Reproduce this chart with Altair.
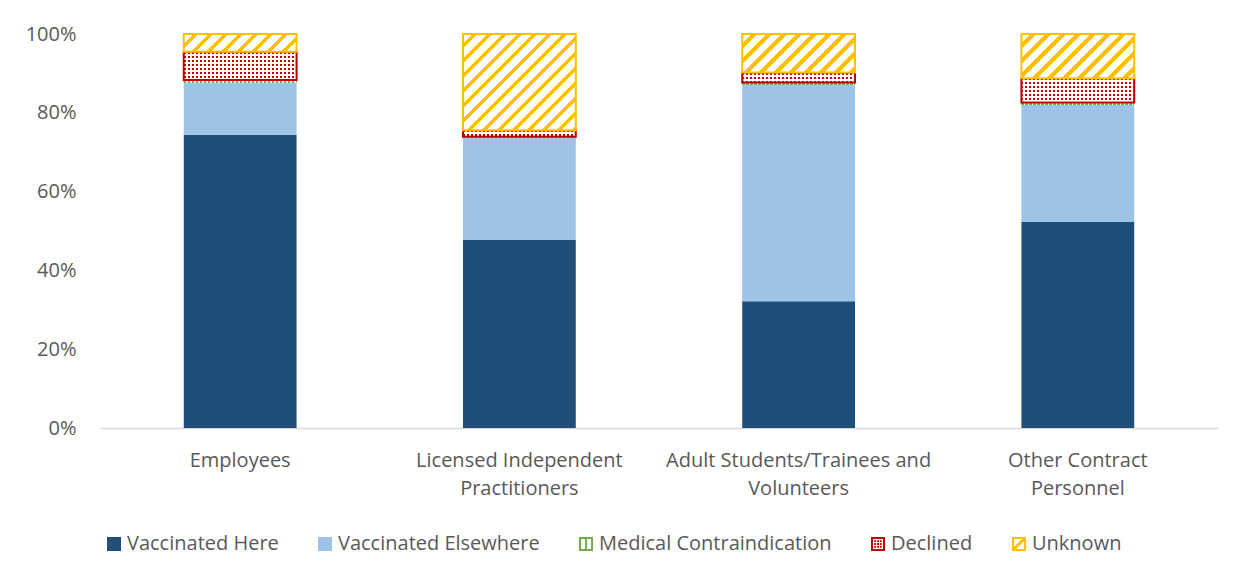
import math
import altair as alt
import pandas as pd

# ---------------- data ----------------
categories = [
    "Employees",
    "Licensed Independent Practitioners",
    "Adult Students/Trainees and Volunteers",
    "Other Contract Personnel",
]
label_lines = [
    ["Employees"],
    ["Licensed Independent", "Practitioners"],
    ["Adult Students/Trainees and", "Volunteers"],
    ["Other Contract", "Personnel"],
]
series = ["Vaccinated Here", "Vaccinated Elsewhere", "Medical Contraindication", "Declined", "Unknown"]
vaccinated_here = [74.4, 47.7, 32.2, 52.3]
vaccinated_elsewhere = [13.2, 25.9, 54.9, 29.7]
medical_contraindication = [0.7, 0.3, 0.6, 0.6]
declined = [7.2, 1.7, 2.5, 6.2]
unknown = [4.5, 24.4, 9.8, 11.2]
y_ticks = [0, 20, 40, 60, 80, 100]

colors = ["#1F4E79", "#9DC3E6", "#70AD47", "#C00000", "#FFC000"]

values_by_series = [vaccinated_here, vaccinated_elsewhere, medical_contraindication, declined, unknown]
rows = []
for ci, cat in enumerate(categories):
    base = 0.0
    for si, s in enumerate(series):
        v = values_by_series[si][ci]
        rows.append({"category": cat, "series": s, "value": v, "y0": base, "y1": base + v})
        base += v
df = pd.DataFrame(rows)

# ---------------- layout ----------------
W_PLOT, H_PLOT = 1118, 394
P_INNER, P_OUTER = 0.596, 0.3
STEP = W_PLOT / (len(categories) - P_INNER + 2 * P_OUTER)
BAR_W = STEP * (1 - P_INNER)
FONT = "Open Sans"
FS = 20
TXT = "#595959"
TRANSP = "rgba(255,255,255,0)"


def stripes(length, period, frac, c_on, c_off, horizontal=True):
    stops = []
    n = int(math.ceil(length / period)) + 1
    for i in range(n):
        a = min(1.0, i * period / length)
        b = min(1.0, (i + frac) * period / length)
        c = min(1.0, (i + 1) * period / length)
        stops += [
            {"offset": a, "color": c_on},
            {"offset": b, "color": c_on},
            {"offset": b, "color": c_off},
            {"offset": c, "color": c_off},
        ]
        if c >= 1.0:
            break
    if horizontal:
        return alt.LinearGradient(gradient="linear", stops=stops, x1=0, y1=0, x2=1, y2=0)
    return alt.LinearGradient(gradient="linear", stops=stops, x1=0, y1=0, x2=0, y2=1)


def diag(w, h, period, frac, c_on, c_off):
    c = (w + h) / (w * w + h * h)
    L = (w + h) / math.sqrt(2)
    stops = []
    n = int(math.ceil(L / period)) + 1
    for i in range(n):
        a = min(1.0, i * period / L)
        b = min(1.0, (i + 1 - frac) * period / L)
        e = min(1.0, (i + 1) * period / L)
        stops += [
            {"offset": a, "color": c_off},
            {"offset": b, "color": c_off},
            {"offset": b, "color": c_on},
            {"offset": e, "color": c_on},
        ]
        if e >= 1.0:
            break
    return alt.LinearGradient(gradient="linear", stops=stops, x1=0, y1=0, x2=c * w, y2=c * h)


def sq(x0, y0, x1, y1, ccw=False):
    if ccw:
        return f"M{x0},{y0}V{y1}H{x1}V{y0}Z"
    return f"M{x0},{y0}H{x1}V{y1}H{x0}Z"


ring = sq(-1, -1, 1, 1) + sq(-0.72, -0.72, 0.72, 0.72, ccw=True)
shape_solid = sq(-1, -1, 1, 1)
shape_med = ring + sq(-0.14, -1, 0.14, 1)
dots = "".join(
    sq(cx - 0.13, cy - 0.13, cx + 0.13, cy + 0.13)
    for cx in (-0.4, 0.0, 0.4)
    for cy in (-0.4, 0.0, 0.4)
)
shape_dec = ring + dots
shape_unk = ring + "M-0.72,0.42L0.42,-0.72L0.72,-0.72L0.72,-0.42L-0.42,0.72L-0.72,0.72Z"
shapes = [shape_solid, shape_solid, shape_med, shape_dec, shape_unk]

x_enc = alt.X(
    "category:N",
    sort=categories,
    scale=alt.Scale(paddingInner=P_INNER, paddingOuter=P_OUTER),
    axis=alt.Axis(
        title=None,
        labelAngle=0,
        ticks=False,
        domainColor="#D9D9D9",
        domainWidth=1.5,
        labelFont=FONT,
        labelFontSize=FS,
        labelColor=TXT,
        labelPadding=22,
        labelBaseline="top",
        labelLineHeight=28,
        labelLimit=0,
        labelExpr=" : ".join(
            [f"datum.label == '{c}' ? {l}" for c, l in zip(categories, label_lines)]
        ) + " : datum.label",
    ),
)
y_enc = alt.Y(
    "y0:Q",
    scale=alt.Scale(domain=[0, 100], nice=False),
    axis=alt.Axis(
        title=None,
        values=y_ticks,
        labelExpr="datum.value + '%'",
        grid=False,
        domain=False,
        ticks=False,
        labelFont=FONT,
        labelFontSize=FS,
        labelColor=TXT,
        labelPadding=24,
    ),
)
y2_enc = alt.Y2("y1:Q")

legend = alt.Legend(
    title=None,
    orient="none",
    direction="horizontal",
    legendX=4,
    legendY=500,
    symbolSize=196,
    symbolStrokeWidth=0,
    symbolOpacity=1,
    labelFont=FONT,
    labelFontSize=FS,
    labelColor=TXT,
    labelOffset=3,
    labelLimit=0,
    columnPadding=36,
    padding=0,
)
color_enc = alt.Color(
    "series:N", scale=alt.Scale(domain=series, range=colors), sort=series, legend=legend
)
shape_enc = alt.Shape(
    "series:N", scale=alt.Scale(domain=series, range=shapes), sort=series, legend=legend
)

base = alt.Chart(df).mark_bar().encode(x=x_enc, y=y_enc, y2=y2_enc, color=color_enc)
legend_pts = (
    alt.Chart(df)
    .mark_point(filled=True, opacity=0)
    .encode(x=x_enc, y=y_enc, color=color_enc, shape=shape_enc)
)

layers = [base]
for ci, cat in enumerate(categories):
    for s in ["Medical Contraindication", "Declined", "Unknown"]:
        v = values_by_series[series.index(s)][ci]
        h = v / 100.0 * H_PLOT
        sel = alt.Chart(df).transform_filter(
            (alt.datum.category == cat) & (alt.datum.series == s)
        )
        if s == "Medical Contraindication":
            g = stripes(BAR_W, 4, 0.6, "#70AD47", "white", horizontal=True)
            layers.append(sel.mark_bar(fill=g).encode(x=x_enc, y=y_enc, y2=y2_enc))
        elif s == "Declined":
            g1 = stripes(BAR_W, 4, 0.5, "#C00000", "white", horizontal=True)
            g2 = stripes(max(h, 1), 4, 0.5, TRANSP, "white", horizontal=False)
            layers.append(sel.mark_bar(fill=g1).encode(x=x_enc, y=y_enc, y2=y2_enc))
            layers.append(
                sel.mark_bar(fill=g2, stroke="#C00000", strokeWidth=2).encode(
                    x=x_enc, y=y_enc, y2=y2_enc
                )
            )
        else:
            g = diag(BAR_W, max(h, 1), 10.6, 0.37, "#FFC000", "white")
            layers.append(
                sel.mark_bar(fill=g, stroke="#FFC000", strokeWidth=2).encode(
                    x=x_enc, y=y_enc, y2=y2_enc
                )
            )
layers.append(legend_pts)

chart = (
    alt.layer(*layers)
    .properties(
        width=W_PLOT,
        height=H_PLOT,
        autosize=alt.AutoSizeParams(type="none"),
        padding={"left": 92, "top": 26, "right": 16, "bottom": 138},
        background="white",
    )
    .configure_view(strokeWidth=0, stroke="transparent")
)

chart.save("out.html", embed_options={"renderer": "svg", "actions": False})
